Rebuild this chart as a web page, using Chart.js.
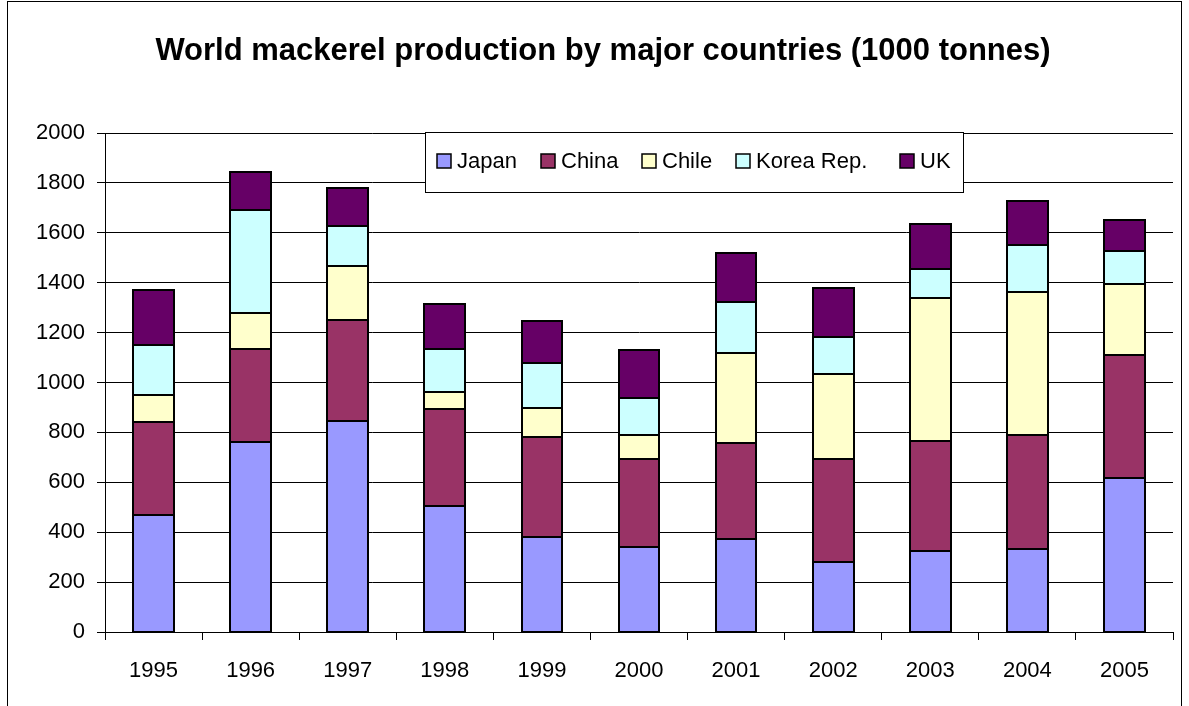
<!DOCTYPE html>
<html>
<head>
<meta charset="utf-8">
<script src="https://cdn.jsdelivr.net/npm/chart.js@4.4.1/dist/chart.umd.min.js"></script>
<style>
  html, body { margin: 0; padding: 0; background: #fff; }
  #wrap { position: relative; width: 1189px; height: 706px; overflow: hidden; }
  #frame { position: absolute; left: 7px; top: 1px; width: 1175px; height: 740px; border: 1px solid #000; box-sizing: border-box; pointer-events: none; }
  canvas { position: absolute; left: 0; top: 0; }
</style>
</head>
<body>
<div id="wrap">
  <canvas id="c" width="1189" height="706"></canvas>
  <div id="frame"></div>
</div>
<script>
const titleText = 'World mackerel production by major countries (1000 tonnes)';
const years = ['1995','1996','1997','1998','1999','2000','2001','2002','2003','2004','2005'];
const japan = [470, 760, 845, 507, 381, 341, 373, 280, 325, 333, 618];
const china = [370, 376, 406, 385, 402, 353, 385, 414, 440, 458, 494];
const chile = [110, 142, 214, 70, 116, 97, 362, 339, 575, 572, 283];
const korea = [200, 414, 163, 174, 181, 147, 203, 148, 115, 188, 134];
const uk    = [220, 151, 151, 180, 166, 192, 198, 198, 182, 175, 124];
const seriesNames = ['Japan', 'China', 'Chile', 'Korea Rep.', 'UK'];
const seriesColors = ['#9999FF', '#993366', '#FFFFCC', '#CCFFFF', '#660066'];
const yTicks = { min: 0, max: 2000, step: 200 };

const FONT = "'Liberation Sans', Arial, Helvetica, sans-serif";

const seriesData = [japan, china, chile, korea, uk];
const datasets = seriesData.map((d, i) => ({
  label: seriesNames[i],
  data: d,
  backgroundColor: seriesColors[i],
  borderWidth: 0,
  barPercentage: 0.42,
  categoryPercentage: 1.0,
  inflateAmount: 0
}));

// black outlines centred on each segment's edges
const outlinePlugin = {
  id: 'outline',
  afterDatasetsDraw(chart) {
    const ctx = chart.ctx;
    ctx.save();
    ctx.strokeStyle = '#000';
    ctx.lineWidth = 2;
    chart.data.datasets.forEach((ds, i) => {
      chart.getDatasetMeta(i).data.forEach((bar) => {
        const p = bar.getProps(['x', 'y', 'base', 'width'], true);
        const l = Math.round(p.x - p.width / 2), r = Math.round(p.x + p.width / 2);
        const t = Math.round(p.y), b = Math.round(p.base);
        ctx.strokeRect(l, t, r - l, b - t);
      });
    });
    ctx.restore();
  }
};

const titlePlugin = {
  id: 'chartTitle',
  afterDraw(chart) {
    const ctx = chart.ctx;
    ctx.save();
    ctx.font = 'bold 31px ' + FONT;
    ctx.fillStyle = '#000';
    ctx.textAlign = 'center';
    ctx.textBaseline = 'middle';
    ctx.fillText(titleText, 603, 51);
    ctx.restore();
  }
};

const legendPlugin = {
  id: 'boxLegend',
  afterDraw(chart) {
    const ctx = chart.ctx;
    const box = { x: 425.5, y: 132.5, w: 538, h: 60 };
    const swatchX = [437, 541, 642, 736, 900];
    ctx.save();
    ctx.fillStyle = '#fff';
    ctx.fillRect(box.x, box.y, box.w, box.h);
    ctx.strokeStyle = '#000';
    ctx.lineWidth = 1;
    ctx.strokeRect(box.x, box.y, box.w, box.h);
    ctx.font = '22px ' + FONT;
    ctx.textBaseline = 'middle';
    const cy = 161;
    chart.data.datasets.forEach((ds, i) => {
      const x = swatchX[i];
      ctx.fillStyle = ds.backgroundColor;
      ctx.fillRect(x, cy - 7, 14, 14);
      ctx.strokeStyle = '#000';
      ctx.lineWidth = 1.5;
      ctx.strokeRect(x, cy - 7, 14, 14);
      ctx.fillStyle = '#000';
      ctx.fillText(ds.label, x + 20, cy + 1);
    });
    ctx.restore();
  }
};

new Chart(document.getElementById('c'), {
  type: 'bar',
  data: { labels: years, datasets },
  options: {
    responsive: false,
    animation: false,
    devicePixelRatio: 1,
    layout: { padding: { left: 0, right: 16, top: 133, bottom: 0 } },
    plugins: {
      legend: { display: false },
      tooltip: { enabled: false },
      title: { display: false }
    },
    scales: {
      x: {
        stacked: true,
        afterFit(s) { s.height = 74; },
        grid: { display: true, drawOnChartArea: false, drawTicks: true, tickLength: 8, color: '#000', offset: true },
        border: { display: true, color: '#000', width: 1 },
        ticks: { color: '#000', font: { family: FONT, size: 22 }, padding: 18, maxRotation: 0 }
      },
      y: {
        stacked: true,
        min: yTicks.min,
        max: yTicks.max,
        afterFit(s) { s.width = 105; },
        grid: { color: '#000', lineWidth: 1, drawTicks: true, tickLength: 8 },
        border: { display: true, color: '#000', width: 1 },
        ticks: { stepSize: yTicks.step, color: '#000', font: { family: FONT, size: 22 }, padding: 12,
                 callback: (v) => String(v) }
      }
    }
  },
  plugins: [outlinePlugin, titlePlugin, legendPlugin]
});
</script>
</body>
</html>
